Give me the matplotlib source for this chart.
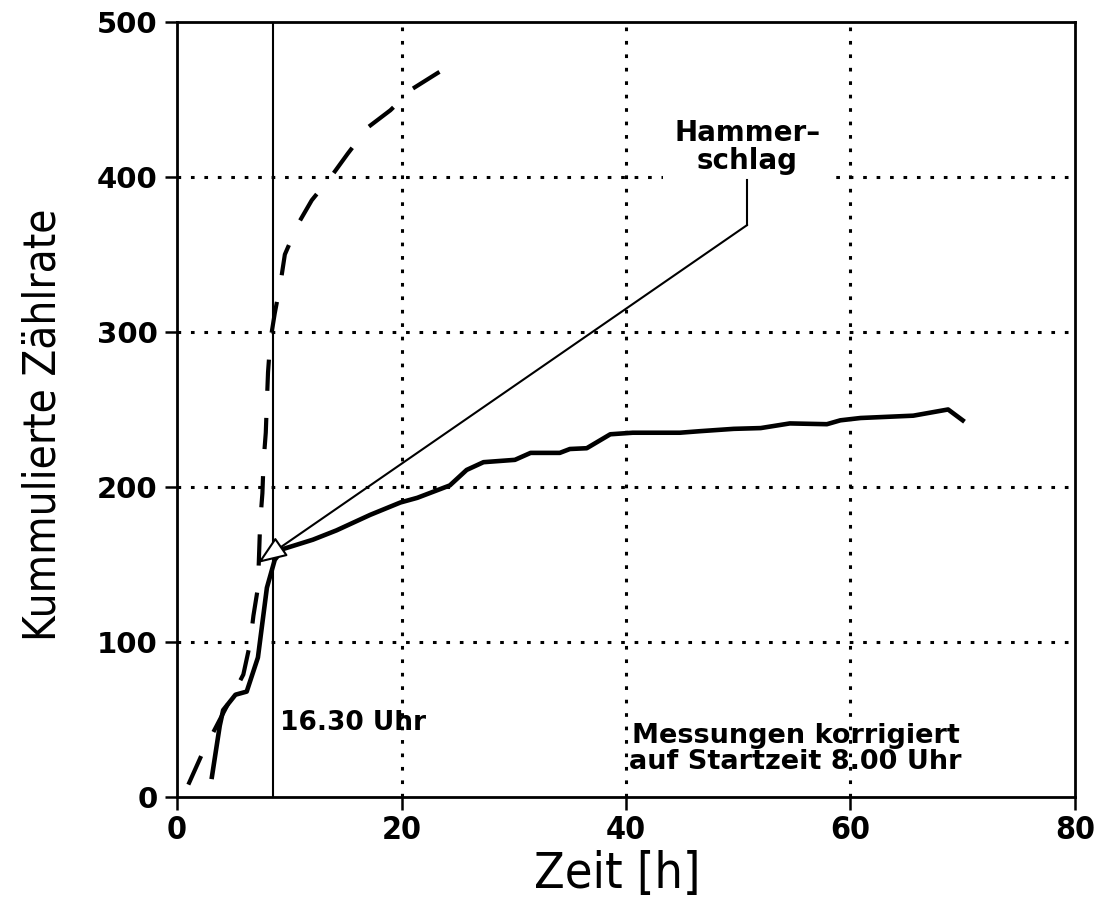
import numpy as np
import matplotlib.pyplot as plt

# Zeit nach Startzeit 8.00 Uhr [h] und kumulierte Zaehlrate
zeit_solid = [3.1, 3.8, 4.1, 5.2, 6.2, 7.2, 8.0, 8.7, 9.45, 12.1, 14.2, 17.2, 19.9,
              21.4, 24.3, 25.8, 27.3, 30.1, 31.5, 34.1, 35.0, 36.5, 38.6, 40.6,
              44.8, 46.6, 49.6, 52.0, 54.6, 57.9, 59.1, 60.9, 65.6, 68.7, 70.0]
rate_solid = [13, 46, 56, 66, 68, 90, 135, 153, 160, 166, 172, 182, 190,
              193, 201, 211, 216, 217.5, 222, 222, 224.5, 225, 234, 235,
              235, 236, 237.5, 238, 241, 240.5, 243, 244.5, 246, 250, 243]

zeit_dash = [1.0, 2.3, 5.9, 6.5, 6.8, 7.2, 7.3, 7.4, 7.6, 7.7, 7.9, 8.0, 8.1, 8.3,
             8.7, 9.2, 9.6, 10.8, 12.0, 13.8, 15.2, 17.0, 19.0, 21.0, 23.2, 24.6]
rate_dash = [8, 29, 79, 99, 117, 135, 156, 177, 196, 216, 235, 255, 274, 294,
             312, 331, 350, 370, 385, 401, 415, 432, 443, 457, 467, 473]

t_hammer = 8.5          # 16.30 Uhr
arrow_tip = (7.2, 151)
arrow_knee = (50.8, 369)

xticks = [0, 20, 40, 60, 80]
yticks = [0, 100, 200, 300, 400, 500]

fig = plt.figure(figsize=(11.07, 9.14), dpi=100)
ax = fig.add_axes([0.160, 0.128, 0.811, 0.848])

ax.set_xlim(0, 80)
ax.set_ylim(0, 500)

# dotted grid inside the box only
grid_kw = dict(color='black', lw=2.2, ls=(0, (1.2, 3.2)), zorder=1)
for gx in xticks[1:-1]:
    ax.axvline(gx, **grid_kw)
for gy in yticks[1:-1]:
    ax.axhline(gy, **grid_kw)

ax.axvline(t_hammer, color='black', lw=1.5, zorder=2)

ax.plot(zeit_solid, rate_solid, color='black', lw=3.3, zorder=4,
        solid_joinstyle='round')
ax.plot(zeit_dash, rate_dash, color='black', lw=3.0, zorder=4,
        dashes=(7.5, 6.5))

# leader for "Hammerschlag"
ax.text(arrow_knee[0], 419, 'Hammer\u2013\nschlag', ha='center', va='center',
        fontsize=20, fontweight='bold', linespacing=1.0, zorder=5,
        bbox=dict(facecolor='white', edgecolor='none', pad=8))
ax.plot([arrow_knee[0], arrow_knee[0]], [398, arrow_knee[1]], color='black',
        lw=1.5, zorder=6)
ax.annotate('', xy=arrow_tip, xytext=arrow_knee, zorder=6,
            arrowprops=dict(arrowstyle='-|>,head_length=0.9,head_width=0.35',
                            mutation_scale=20, lw=1.5, ec='black', fc='white',
                            shrinkA=0, shrinkB=0))

ax.text(9.2, 48, '16.30 Uhr', ha='left', va='center', fontsize=19,
        fontweight='bold', zorder=5)
ax.text(55.1, 31, 'Messungen korrigiert\nauf Startzeit 8.00 Uhr',
        ha='center', va='center', fontsize=19.5, fontweight='bold',
        linespacing=1.0, zorder=5)

for s in ax.spines.values():
    s.set_linewidth(2.0)

ax.set_xticks(xticks)
ax.set_yticks(yticks)
ax.tick_params(direction='out', length=9, width=1.8)
ax.tick_params(axis='y', pad=5, labelsize=21)
ax.tick_params(axis='x', pad=4, labelsize=23)
for lab in ax.get_yticklabels():
    lab.set_fontweight('bold')
for lab in ax.get_xticklabels():
    lab.set_fontweight('bold')
    lab.set_fontstretch('condensed')

ax.set_xlabel('Zeit [h]', fontsize=36, fontstretch='condensed')
ax.set_ylabel('Kummulierte Z\u00e4hlrate', fontsize=31.5, fontstretch='condensed')
ax.xaxis.set_label_coords(0.49, -0.068)
ax.yaxis.set_label_coords(-0.125, 0.48)

fig.savefig('out.png', dpi=100)
